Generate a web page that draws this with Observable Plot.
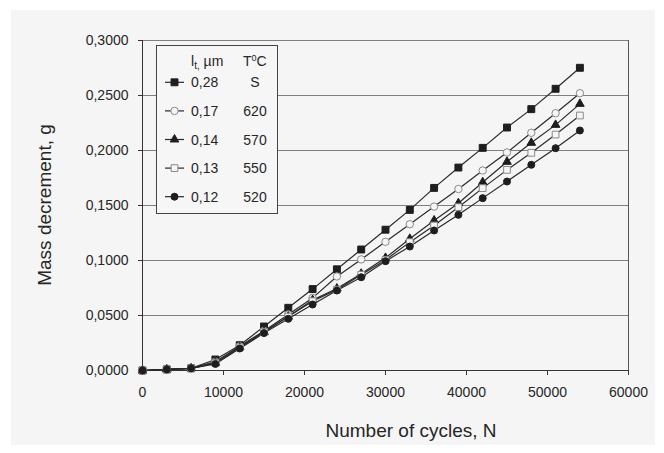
<!DOCTYPE html>
<html><head><meta charset="utf-8">
<script src="https://cdn.jsdelivr.net/npm/d3@7"></script>
<script src="https://cdn.jsdelivr.net/npm/@observablehq/plot@0.6"></script>
<style>
html,body{margin:0;padding:0;background:#fff;}
#wrap{position:relative;width:664px;height:453px;overflow:hidden;}
#panel{position:absolute;left:11px;top:10px;width:644px;height:435px;background:#f5f5f5;}
#chart{position:absolute;left:0;top:0;}
</style></head><body>
<div id="wrap"><div id="panel"></div><div id="chart"></div></div>
<script>
// ---- data ----
const cycles = [0,3000,6000,9000,12000,15000,18000,21000,24000,27000,30000,33000,36000,39000,42000,45000,48000,51000,54000];
const seriesTemp = ["S","620","570","550","520"];
const seriesThickness = ["0,28","0,17","0,14","0,13","0,12"];
const massS   = [0,0.001,0.002,0.010,0.023,0.040,0.057,0.074,0.092,0.110,0.128,0.146,0.166,0.1845,0.2024,0.2209,0.2376,0.2561,0.2752];
const mass620 = [0,0.001,0.002,0.008,0.022,0.036,0.051,0.066,0.0855,0.101,0.117,0.133,0.149,0.165,0.1818,0.1982,0.2161,0.2339,0.2521];
const mass570 = [0,0.001,0.002,0.007,0.021,0.035,0.049,0.064,0.0745,0.088,0.1024,0.1197,0.1364,0.1521,0.1712,0.1897,0.207,0.2233,0.2424];
const mass550 = [0,0.001,0.002,0.007,0.021,0.035,0.049,0.063,0.0735,0.087,0.1005,0.1167,0.1318,0.1485,0.1658,0.1824,0.1979,0.2145,0.2318];
const mass520 = [0,0.001,0.002,0.006,0.020,0.034,0.047,0.060,0.0727,0.0848,0.0994,0.1127,0.1273,0.1415,0.1567,0.1718,0.187,0.2021,0.2182];
const yTicks = [0,0.05,0.10,0.15,0.20,0.25,0.30];
const xTicks = [0,10000,20000,30000,40000,50000,60000];
const xTitle = "Number of cycles, N";
const yTitle = "Mass decrement, g";

// ---- build ----
const allMass = [massS, mass620, mass570, mass550, mass520];
const styles = [
  {symbol:"square",   fill:"#1e1e1e", stroke:"#1e1e1e", r:3.9},
  {symbol:"circle",   fill:"#f5f5f5", stroke:"#8a8a8a", r:3.7},
  {symbol:"triangle", fill:"#1e1e1e", stroke:"#1e1e1e", r:3.2},
  {symbol:"square",   fill:"#f5f5f5", stroke:"#8a8a8a", r:3.8},
  {symbol:"circle",   fill:"#1e1e1e", stroke:"#1e1e1e", r:3.5}
];
const tables = allMass.map((arr, i) => cycles.map((c, j) => ({N: c, m: arr[j], s: seriesTemp[i]})));
const fmtY = d => d.toFixed(4).replace(".", ",");

const marks = [
  Plot.gridY(yTicks.slice(1), {stroke:"#7f7f7f", strokeOpacity:1, strokeWidth:1}),
  Plot.ruleX([60000], {stroke:"#555", strokeWidth:1}),
  Plot.axisY({ticks: yTicks, tickFormat: fmtY, tickSize: 4, tickPadding: 10, fontSize: 14, label: null, stroke:"#333"}),
  Plot.axisX({ticks: xTicks, tickFormat: d => String(d), tickSize: 5, tickPadding: 12, fontSize: 14, label: null, stroke:"#333"}),
  Plot.ruleX([0], {stroke:"#333", strokeWidth:1}),
  Plot.ruleY([0], {stroke:"#333", strokeWidth:1})
];
tables.forEach(t => marks.push(Plot.line(t, {x:"N", y:"m", stroke:"#2a2a2a", strokeWidth:1.2})));
tables.forEach((t, i) => marks.push(Plot.dot(t, {x:"N", y:"m", symbol: styles[i].symbol, r: styles[i].r, fill: styles[i].fill, stroke: styles[i].stroke, strokeWidth: 1})));

const chart = Plot.plot({
  width: 664, height: 453,
  marginLeft: 142, marginRight: 36, marginTop: 40, marginBottom: 83,
  x: {domain: [0, 60000]},
  y: {domain: [0, 0.3]},
  style: {fontFamily: "'Liberation Sans', Arial, sans-serif", fontSize: "14px", color: "#262626", background: "transparent", overflow: "visible"},
  marks
});
document.getElementById("chart").appendChild(chart);

// ---- titles and legend ----
const svg = d3.select(chart);
const font = "'Liberation Sans', Arial, sans-serif";
svg.append("text").attr("x", 411).attr("y", 437).attr("text-anchor", "middle")
  .attr("font-family", font).attr("font-size", 19).attr("fill", "#262626").text(xTitle);
svg.append("text").attr("transform", "translate(51,205) rotate(-90)").attr("text-anchor", "middle")
  .attr("font-family", font).attr("font-size", 19).attr("fill", "#262626").text(yTitle);

const lg = svg.append("g").attr("font-family", font).attr("font-size", 14).attr("fill", "#262626").attr("text-anchor", "start");
lg.append("rect").attr("x", 156.5).attr("y", 45.5).attr("width", 121).attr("height", 168)
  .attr("fill", "#f6f6f6").attr("stroke", "#444").attr("stroke-width", 1);
const hdr = lg.append("text").attr("x", 191).attr("y", 66).attr("text-anchor", "start");
hdr.append("tspan").text("l");
hdr.append("tspan").attr("font-size", 10).attr("dy", 3).text("t,");
hdr.append("tspan").attr("dy", -3).text(" \u00b5m");
const hdr2 = lg.append("text").attr("x", 243).attr("y", 66).attr("text-anchor", "start");
hdr2.append("tspan").text("T");
hdr2.append("tspan").attr("font-size", 9).attr("dy", -5).text("0");
hdr2.append("tspan").attr("dy", 5).text("C");
const symMap = {square: d3.symbolSquare, circle: d3.symbolCircle, triangle: d3.symbolTriangle};
seriesTemp.forEach((s, i) => {
  const base = 87.3 + i * 28.6;
  const cy = base - 5;
  lg.append("line").attr("x1", 165).attr("x2", 184).attr("y1", cy).attr("y2", cy).attr("stroke", "#2a2a2a").attr("stroke-width", 1.2);
  const st = styles[i];
  lg.append("path").attr("d", d3.symbol(symMap[st.symbol], Math.PI * st.r * st.r)())
    .attr("transform", `translate(174.5,${cy})`).attr("fill", st.fill).attr("stroke", st.stroke);
  lg.append("text").attr("x", 191).attr("y", base).attr("text-anchor", "start").text(seriesThickness[i]);
  lg.append("text").attr("x", 255).attr("y", base).attr("text-anchor", "middle").text(s);
});
</script>
</body></html>
